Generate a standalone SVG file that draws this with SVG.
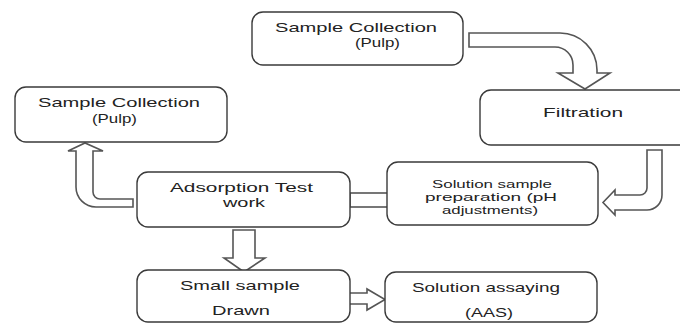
<svg xmlns="http://www.w3.org/2000/svg" width="680" height="324" viewBox="0 0 680 324">
<style>
.box{fill:#fff;stroke:#3a3a3a;stroke-width:1.4}
.arr{fill:#fff;stroke:#555;stroke-width:1.6;stroke-linejoin:miter}
.t{font-family:"Liberation Sans","Open Sans",sans-serif;font-size:13px;fill:#222}
.s{font-family:"Liberation Sans","Open Sans",sans-serif;font-size:11px;fill:#222}
</style>
<rect width="680" height="324" fill="#fff"/>
<g id="connectors">
<path class="arr" d="M469,33 H560 A37,37 0 0 1 597,70 V73 H610 L585,89 L558,73 H573 V65 A18,18 0 0 0 555,47 H469 Z"/>
<path class="arr" d="M647,150 H662 V195 A15,15 0 0 1 647,210 H615 V215 L603,202.5 L615,190 V195 H640 A7,7 0 0 0 647,188 Z"/>
<path class="arr" d="M133,199 V207 H96 A20,20 0 0 1 76,187 V151 H68 L85,143 L103,151 H93 V192 A7,7 0 0 0 100,199 Z"/>
<rect class="arr" x="350" y="193" width="38" height="14"/>
<path class="arr" d="M233,230 H255 V258 H265 L244,272 L224,258 H233 Z"/>
<path class="arr" d="M349,293 H367 V289 L385,299.5 L367,310 V304 H349 Z"/>
</g>
<g id="n1">
<rect class="box" x="252" y="12" width="211" height="53" rx="11"/>
<text class="t" x="275" y="32" textLength="162" lengthAdjust="spacingAndGlyphs">Sample Collection</text>
<text class="t" x="355" y="47" textLength="45" lengthAdjust="spacingAndGlyphs">(Pulp)</text>
</g>
<g id="n2">
<rect class="box" x="480" y="90" width="212" height="55" rx="11"/>
<text class="t" x="543" y="117" textLength="80" lengthAdjust="spacingAndGlyphs">Filtration</text>
</g>
<g id="n3">
<rect class="box" x="387" y="162" width="211" height="63" rx="11"/>
<text class="s" x="432" y="188" textLength="120" lengthAdjust="spacingAndGlyphs">Solution sample</text>
<text class="s" x="425" y="201" textLength="132" lengthAdjust="spacingAndGlyphs">preparation (pH</text>
<text class="s" x="442" y="214" textLength="96" lengthAdjust="spacingAndGlyphs">adjustments)</text>
</g>
<g id="n4">
<rect class="box" x="137" y="172" width="213" height="55" rx="11"/>
<text class="t" x="170" y="192" textLength="143" lengthAdjust="spacingAndGlyphs">Adsorption Test</text>
<text class="t" x="223" y="207" textLength="42" lengthAdjust="spacingAndGlyphs">work</text>
</g>
<g id="n5">
<rect class="box" x="15" y="87" width="212" height="55" rx="11"/>
<text class="t" x="38" y="107" textLength="162" lengthAdjust="spacingAndGlyphs">Sample Collection</text>
<text class="t" x="92" y="123" textLength="45" lengthAdjust="spacingAndGlyphs">(Pulp)</text>
</g>
<g id="n6">
<rect class="box" x="137" y="270" width="213" height="52" rx="11"/>
<text class="t" x="180" y="290" textLength="120" lengthAdjust="spacingAndGlyphs">Small sample</text>
<text class="t" x="212" y="315" textLength="58" lengthAdjust="spacingAndGlyphs">Drawn</text>
</g>
<g id="n7">
<rect class="box" x="385" y="272" width="212" height="50" rx="11"/>
<text class="t" x="412" y="292" textLength="148" lengthAdjust="spacingAndGlyphs">Solution assaying</text>
<text class="t" x="465" y="317" textLength="48" lengthAdjust="spacingAndGlyphs">(AAS)</text>
</g>
</svg>
